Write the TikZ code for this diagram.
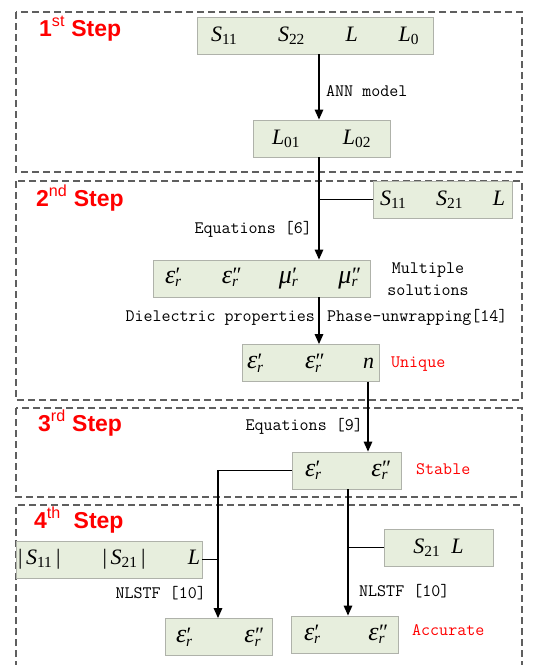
\documentclass[tikz,border=0pt]{standalone}
\usepackage{fontspec}
\setmainfont{Liberation Serif}
\newfontfamily\stepfamily{Liberation Sans}
\usetikzlibrary{arrows.meta}
\definecolor{boxfill}{RGB}{231,238,221}
\definecolor{boxline}{RGB}{175,178,170}
\definecolor{framegray}{RGB}{95,95,95}
\definecolor{stepred}{RGB}{255,0,0}
\newcommand\Sy[2]{{\itshape #1}\textsubscript{#2}}
\newcommand\Ep[2]{{\fontsize{26}{26}\selectfont\itshape #1}\rlap{\kern0.5pt\raisebox{0.5pt}{\fontsize{22}{22}\selectfont #2}}\textsubscript{\itshape r}\hspace*{4pt}}
\tikzset{
  frame/.style={draw=framegray, line width=1.2pt, dash pattern=on 7pt off 4pt},
  box/.style={rectangle, draw=boxline, fill=boxfill, line width=0.8pt, inner ysep=0pt,
    minimum height=37pt, font=\fontsize{22}{24}\selectfont},
  lbl/.style={inner sep=0pt, font=\fontsize{17.5}{21}\selectfont\ttfamily, text height=11pt, text depth=3pt},
  redlbl/.style={lbl, text=stepred},
  steplbl/.style={inner sep=0pt, anchor=base west, text=stepred, font=\fontsize{23}{26}\selectfont\stepfamily\bfseries},
  conn/.style={draw=black, line width=1.3pt},
  arr/.style={conn, -{Triangle[length=10pt,width=8.5pt]}}
}
\begin{document}
\begin{tikzpicture}[x=1pt,y=-1pt]
\useasboundingbox (0,0) rectangle (538,665);
% frames
\draw[frame] (16,12) rectangle (522,172);
\draw[frame] (16,181) rectangle (522,400);
\draw[frame] (16,408) rectangle (522,497);
\draw[frame] (16,668) -- (16,505) -- (522,505) -- (522,668);
% step labels
\node[steplbl] (s1) at (39,36) {1\textsuperscript{\mdseries st} Step};
\node[steplbl] (s2) at (36,206) {2\textsuperscript{\mdseries nd} Step};
\node[steplbl] (s3) at (38,431) {3\textsuperscript{\mdseries rd} Step};
\node[steplbl] (s4) at (34,528) {4\textsuperscript{\mdseries th}\ \ Step};
% boxes
\node[box, minimum width=236pt, inner xsep=14pt, text width=208pt] (A) at (315,35.5)
  {\Sy{S}{11}\hfill\Sy{S}{22}\hfill{\itshape L}\hfill\Sy{L}{0}};
\node[box, minimum width=137pt, inner xsep=19pt, text width=99pt] (B) at (321.5,138.5)
  {\Sy{L}{01}\hfill\Sy{L}{02}};
\node[box, minimum width=139pt, inner xsep=7pt, text width=125pt] (C) at (442.5,199.5)
  {\Sy{S}{11}\hfill\Sy{S}{21}\hfill{\itshape L}};
\node[box, minimum width=217pt, inner xsep=12pt, text width=193pt] (D) at (261.5,278.5)
  {\Ep{ε}{′}\hfill\Ep{ε}{″}\hfill\Ep{μ}{′}\hfill\Ep{μ}{″}};
\node[box, minimum width=137pt, inner xsep=5pt, text width=127pt] (E) at (310.5,363)
  {\Ep{ε}{′}\hfill\Ep{ε}{″}\hfill{\itshape n}};
\node[box, minimum width=109pt, inner xsep=13pt, text width=83pt] (F) at (346.5,470.5)
  {\Ep{ε}{′}\hfill\Ep{ε}{″}};
\node[box, minimum width=186pt, inner xsep=2pt, text width=182pt] (G) at (109,559.5)
  {|\,\Sy{S}{11}\,|\hfill|\,\Sy{S}{21}\,|\hfill{\itshape L}};
\node[box, minimum width=109pt, inner xsep=4pt, align=center] (H) at (438.5,547.5)
  {\Sy{S}{21}\ \ {\itshape L}};
\node[box, minimum width=107pt, inner xsep=11pt, text width=85pt] (I) at (218.5,637)
  {\Ep{ε}{′}\hfill\Ep{ε}{″}};
\node[box, minimum width=107pt, inner xsep=13pt, text width=81pt] (J) at (344.5,634.5)
  {\Ep{ε}{′}\hfill\Ep{ε}{″}};
% helper coordinates
\coordinate (c1) at (319,0);
\coordinate (c2) at (368,0);
\coordinate (c3) at (218,0);
\coordinate (c4) at (348,0);
% connectors
\draw[arr] (A.south -| c1) -- (B.north -| c1);
\draw[arr] (B.south -| c1) -- (D.north -| c1);
\draw[conn] (C.west) -- (C.west -| c1);
\draw[arr] (D.south -| c1) -- (E.north -| c1);
\draw[arr] (E.south -| c2) -- (F.north -| c2);
\draw[arr] (F.west) -| (I.north -| c3);
\draw[conn] (G.east) -- (G.east -| c3);
\draw[arr] (F.south -| c4) -- (J.north -| c4);
\draw[conn] (H.west) -- (H.west -| c4);
% labels
\node[lbl, anchor=west] (l1) at (326,92) {ANN model};
\node[lbl, anchor=east] (l2) at (312,229) {Equations [6]};
\node[lbl, align=center, text height=, text depth=] (l3) at (428,279) {Multiple\\[1pt]solutions};
\node[lbl, anchor=east] (l4) at (315,317) {Dielectric properties};
\node[lbl, anchor=west] (l5) at (327,317) {Phase-unwrapping[14]};
\node[redlbl, anchor=west] (l6) at (391,363) {Unique};
\node[lbl, anchor=east] (l7) at (363,426) {Equations [9]};
\node[redlbl, anchor=west] (l8) at (416,470) {Stable};
\node[lbl, anchor=east] (l9) at (206,594) {NLSTF [10]};
\node[lbl, anchor=west] (l10) at (359,592) {NLSTF [10]};
\node[redlbl, anchor=west] (l11) at (412,631) {Accurate};
\end{tikzpicture}
\end{document}
